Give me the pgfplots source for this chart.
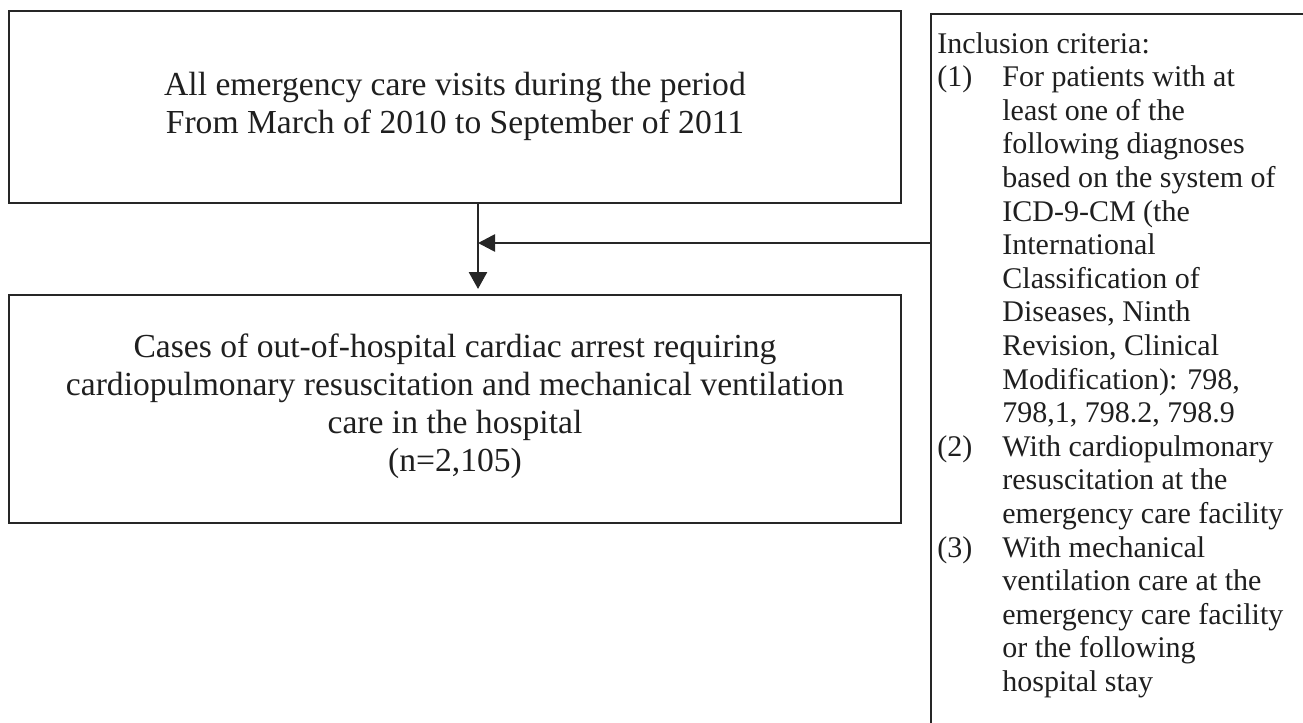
\documentclass[border=0pt]{standalone}
\usepackage{pgfplots}
\pgfplotsset{compat=1.18}
\usepackage{fontspec}
\setmainfont{Liberation Serif}
\usetikzlibrary{arrows.meta}
\begin{document}
\begin{tikzpicture}
\begin{axis}[
  width=651.5pt, height=361.5pt, scale only axis,
  xmin=0, xmax=1303, ymin=0, ymax=723, y dir=reverse,
  axis lines=none, clip=true,
]
% boxes
\addplot[line width=1.35pt, black!85, mark=none] coordinates {(9,11)(901,11)(901,203)(9,203)} -- cycle;
\addplot[line width=1.35pt, black!85, mark=none] coordinates {(9,295)(901,295)(901,523)(9,523)} -- cycle;
\addplot[line width=1.35pt, black!85, mark=none] coordinates {(931,723)(931,14)(1303,14)};
% arrows
\addplot[line width=1.35pt, black!85, mark=none, -{Triangle[width=9pt,length=8.5pt]}] coordinates {(478,203)(478,289)};
\addplot[line width=1.35pt, black!85, mark=none, -{Triangle[width=8.5pt,length=8.5pt]}] coordinates {(931,243)(478,243)};
% left texts
\begin{scope}[every node/.style={inner sep=0pt, text=black!88, font=\fontsize{16.8}{20}\selectfont, anchor=base}]
\node at (axis cs:455,95.5) {All emergency care visits during the period};
\node at (axis cs:455,133.5) {From March of 2010 to September of 2011};
\node at (axis cs:455,357) {Cases of out-of-hospital cardiac arrest requiring};
\node at (axis cs:455,395) {cardiopulmonary resuscitation and mechanical ventilation};
\node at (axis cs:455,433) {care in the hospital};
\node at (axis cs:455,471) {(n=2,105)};
\end{scope}
% right texts
\begin{scope}[every node/.style={inner sep=0pt, text=black!88, font=\fontsize{15}{18}\selectfont, anchor=base west}]
\node at (axis cs:937,53) {Inclusion criteria:};
\node at (axis cs:937,86.6) {(1)};
\node at (axis cs:1002,86.6) {For patients with at};
\node at (axis cs:1002,120.2) {least one of the};
\node at (axis cs:1002,153.8) {following diagnoses};
\node at (axis cs:1002,187.4) {based on the system of};
\node at (axis cs:1002,221) {ICD-9-CM (the};
\node at (axis cs:1002,254.6) {International};
\node at (axis cs:1002,288.2) {Classification of};
\node at (axis cs:1002,321.8) {Diseases, Ninth};
\node at (axis cs:1002,355.4) {Revision, Clinical};
\node at (axis cs:1002,389) {Modification): 798,};
\node at (axis cs:1002,422.6) {798,1, 798.2, 798.9};
\node at (axis cs:937,456.2) {(2)};
\node at (axis cs:1002,456.2) {With cardiopulmonary};
\node at (axis cs:1002,489.8) {resuscitation at the};
\node at (axis cs:1002,523.4) {emergency care facility};
\node at (axis cs:937,557) {(3)};
\node at (axis cs:1002,557) {With mechanical};
\node at (axis cs:1002,590.6) {ventilation care at the};
\node at (axis cs:1002,624.2) {emergency care facility};
\node at (axis cs:1002,657.8) {or the following};
\node at (axis cs:1002,691.4) {hospital stay};
\end{scope}
\end{axis}
\path (current axis.south west) rectangle (current axis.north east);
\end{tikzpicture}
\end{document}
